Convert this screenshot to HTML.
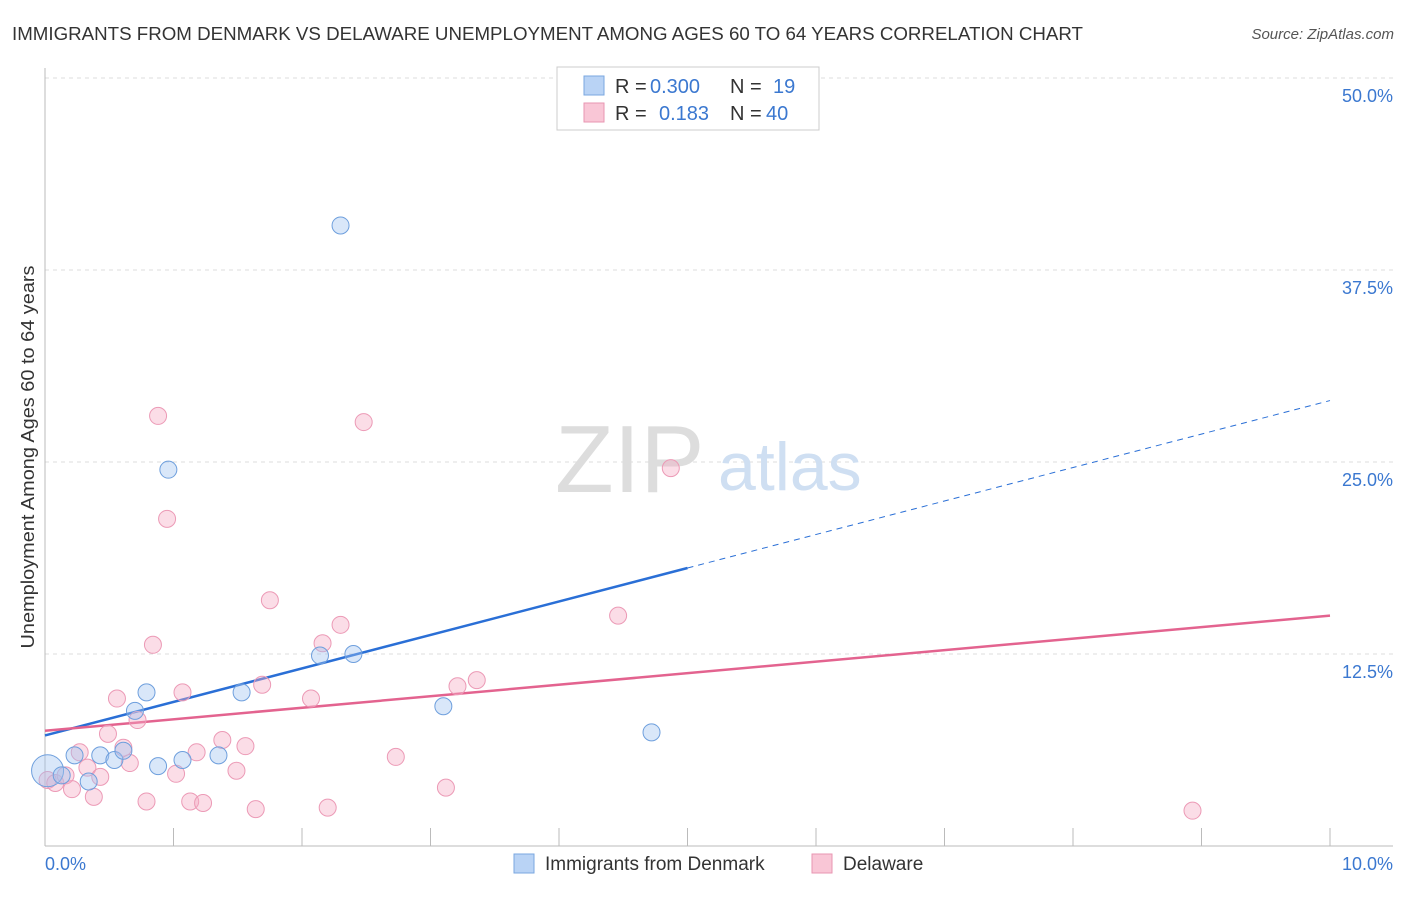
<!DOCTYPE html>
<html><head><meta charset="utf-8"><style>
body{margin:0;background:#fff;font-family:"Liberation Sans",sans-serif;}
svg text{font-family:"Liberation Sans",sans-serif;}
</style></head><body>
<svg width="1406" height="892" xmlns="http://www.w3.org/2000/svg" id="chart">
<text x="12" y="40" font-size="18" fill="#333" textLength="1071" lengthAdjust="spacingAndGlyphs">IMMIGRANTS FROM DENMARK VS DELAWARE UNEMPLOYMENT AMONG AGES 60 TO 64 YEARS CORRELATION CHART</text>
<text x="1394" y="39" font-size="15" fill="#555" font-style="italic" text-anchor="end">Source: ZipAtlas.com</text>
<g id="grid"></g>
<g id="axes"></g>
<text x="555" y="492" font-size="96" fill="#ddd" font-family="Liberation Serif">ZIP</text>
<text x="718" y="490" font-size="68" fill="#cfdff2">atlas</text>
<g id="trends"></g>
<g id="pts"></g>
<text transform="translate(34,457) rotate(-90)" font-size="18" fill="#333" text-anchor="middle" textLength="383" lengthAdjust="spacingAndGlyphs">Unemployment Among Ages 60 to 64 years</text>
<g font-size="20">
<rect x="557" y="67" width="262" height="63" fill="#fff" stroke="#ccc"/>
<rect x="584" y="76" width="20" height="19" fill="#b9d3f5" stroke="#7aa7e0"/>
<rect x="584" y="103" width="20" height="19" fill="#f9c6d6" stroke="#e896b2"/>
<text x="615" y="93" fill="#333">R =</text><text x="650" y="93" fill="#3b78d0">0.300</text>
<text x="730" y="93" fill="#333">N =</text><text x="773" y="93" fill="#3b78d0">19</text>
<text x="615" y="120" fill="#333">R =</text><text x="659" y="120" fill="#3b78d0">0.183</text>
<text x="730" y="120" fill="#333">N =</text><text x="766" y="120" fill="#3b78d0">40</text>
</g>
<g>
<rect x="514" y="854" width="20" height="19" fill="#b9d3f5" stroke="#7aa7e0"/>
<text x="545" y="870" font-size="19" fill="#333">Immigrants from Denmark</text>
<rect x="812" y="854" width="20" height="19" fill="#f9c6d6" stroke="#e896b2"/>
<text x="843" y="870" font-size="19" fill="#333">Delaware</text>
</g>
</svg>
<script>
const blueX=[0.02,0.13,0.34,0.23,0.43,0.54,0.61,0.70,0.79,0.88,0.96,1.07,1.35,1.53,2.14,2.30,2.40,3.10,4.72];
const blueY=[4.9,4.6,4.2,5.9,5.9,5.6,6.2,8.8,10.0,5.2,24.5,5.6,5.9,10.0,12.4,40.4,12.5,9.1,7.4];
const pinkX=[0.02,0.08,0.16,0.21,0.27,0.33,0.38,0.43,0.49,0.56,0.61,0.66,0.72,0.79,0.84,0.88,0.95,1.02,1.07,1.13,1.18,1.23,1.38,1.49,1.56,1.64,1.69,1.75,2.07,2.16,2.20,2.30,2.48,2.73,3.12,3.21,3.36,4.46,4.87,8.93];
const pinkY=[4.3,4.1,4.6,3.7,6.1,5.1,3.2,4.5,7.3,9.6,6.4,5.4,8.2,2.9,13.1,28.0,21.3,4.7,10.0,2.9,6.1,2.8,6.9,4.9,6.5,2.4,10.5,16.0,9.6,13.2,2.5,14.4,27.6,5.8,3.8,10.4,10.8,15.0,24.6,2.3];
const xTicks=["0.0%","10.0%"];
const yTicks=[12.5,25.0,37.5,50.0];
const yTickLabels=["12.5%","25.0%","37.5%","50.0%"];
const blueTrend=[7.2,18.1,29.0]; // at x=0, 5, 10
const pinkTrend=[7.5,15.0]; // at x=0, 10
const X=v=>45+v*128.5, Y=v=>846-v*15.36;
const NS="http://www.w3.org/2000/svg";
function mk(p,t,a){const e=document.createElementNS(NS,t);for(const k in a)e.setAttribute(k,a[k]);p.appendChild(e);return e;}
const grid=document.getElementById('grid'),axes=document.getElementById('axes');
yTicks.forEach((t,i)=>{
 const l=mk(grid,'line',{x1:45,x2:1393,y1:Y(t),y2:Y(t),stroke:'#ddd','stroke-dasharray':'4,4'});
 
 
 const tx=mk(axes,'text',{x:1393,y:Y(t)+24,'font-size':18,fill:'#3b78d0','text-anchor':'end'});tx.textContent=yTickLabels[i];
 
 
});
mk(axes,'line',{x1:45,x2:45,y1:68,y2:846,stroke:'#bbb'});
mk(axes,'line',{x1:45,x2:1393,y1:846,y2:846,stroke:'#bbb'});
for(let i=0;i<=10;i++){mk(axes,'line',{x1:X(i),x2:X(i),y1:828,y2:846,stroke:'#bbb'});}
const t0=mk(axes,'text',{x:45,y:870,'font-size':18,fill:'#3b78d0'});t0.textContent=xTicks[0];


const t1=mk(axes,'text',{x:1393,y:870,'font-size':18,fill:'#3b78d0','text-anchor':'end'});t1.textContent=xTicks[1];


const tr=document.getElementById('trends');
const b1=mk(tr,'line',{x1:X(0),y1:Y(blueTrend[0]),x2:X(5),y2:Y(blueTrend[1]),stroke:'#2a6fd6','stroke-width':2.5});


const b2=mk(tr,'line',{x1:X(5),y1:Y(blueTrend[1]),x2:X(10),y2:Y(blueTrend[2]),stroke:'#2a6fd6','stroke-width':1,'stroke-dasharray':'6,5'});


const p1=mk(tr,'line',{x1:X(0),y1:Y(pinkTrend[0]),x2:X(10),y2:Y(pinkTrend[1]),stroke:'#e3638f','stroke-width':2.5});


const pts=document.getElementById('pts');
pinkX.forEach((x,i)=>{const c=mk(pts,'circle',{cx:X(x),cy:Y(pinkY[i]),r:8.5,fill:'rgba(246,170,196,0.4)',stroke:'#ec9ab6','stroke-width':1});
 
 });
blueX.forEach((x,i)=>{const c=mk(pts,'circle',{cx:X(x),cy:Y(blueY[i]),r:i==0?16:8.5,fill:'rgba(160,196,240,0.4)',stroke:'#6e9fdd','stroke-width':1});
 
 });
</script>
</body></html>
